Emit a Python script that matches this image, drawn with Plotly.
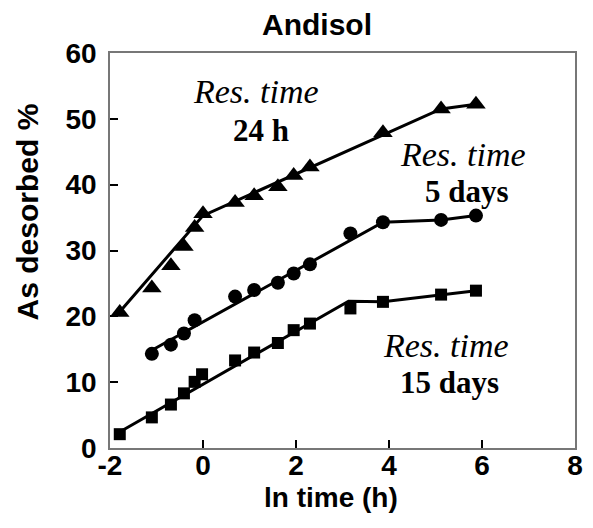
import plotly.graph_objects as go

# ---- data ----
x_24h = [-1.79, -1.10, -0.69, -0.41, -0.18, 0.0, 0.69, 1.10, 1.61, 1.95, 2.30, 3.87, 5.12, 5.87]
y_24h = [20.6, 24.3, 27.7, 30.6, 33.5, 35.6, 37.3, 38.3, 39.7, 41.4, 42.7, 47.9, 51.5, 52.2]

x_5d = [-1.10, -0.69, -0.41, -0.18, 0.69, 1.10, 1.61, 1.95, 2.30, 3.17, 3.87, 5.12, 5.87]
y_5d = [14.3, 15.7, 17.4, 19.4, 23.0, 24.0, 25.1, 26.5, 27.9, 32.6, 34.3, 34.65, 35.3]

x_15d = [-1.79, -1.10, -0.69, -0.41, -0.18, -0.02, 0.69, 1.10, 1.61, 1.95, 2.30, 3.17, 3.87, 5.12, 5.87]
y_15d = [2.1, 4.65, 6.6, 8.3, 10.05, 11.2, 13.3, 14.5, 15.95, 17.9, 18.9, 21.2, 22.2, 23.3, 23.9]

fit24_x = [-1.85, 0.0, 5.12, 5.87]
fit24_y = [20.2, 35.3, 51.5, 52.2]
fit5_x = [-1.10, 3.87, 5.12, 5.87]
fit5_y = [14.85, 34.3, 34.65, 35.3]
fit15_x = [-1.85, 3.13, 3.87, 5.12, 5.87]
fit15_y = [2.2, 22.3, 22.2, 23.3, 23.9]

x_ticks = [-2, 0, 2, 4, 6, 8]
y_ticks = [0, 10, 20, 30, 40, 50, 60]

fig = go.Figure()
for fx, fy in [(fit24_x, fit24_y), (fit5_x, fit5_y), (fit15_x, fit15_y)]:
    fig.add_trace(go.Scatter(x=fx, y=fy, mode="lines", line=dict(color="black", width=3),
                             showlegend=False, hoverinfo="skip"))
fig.add_trace(go.Scatter(x=x_24h, y=y_24h, mode="markers",
                         marker=dict(symbol="triangle-up", size=17, color="black"), showlegend=False))
fig.add_trace(go.Scatter(x=x_5d, y=y_5d, mode="markers",
                         marker=dict(symbol="circle", size=14, color="black"), showlegend=False))
fig.add_trace(go.Scatter(x=x_15d, y=y_15d, mode="markers",
                         marker=dict(symbol="square", size=12, color="black"), showlegend=False))

axis_common = dict(showgrid=False, zeroline=False, showline=True, linecolor="#777", linewidth=1.5,
                   mirror=True, ticks="inside", ticklen=8, tickwidth=1.5, tickcolor="black",
                   tickfont=dict(family="Liberation Sans, Arial", size=28, color="black", weight="bold"))

fig.update_xaxes(range=[-2, 8], tickvals=x_ticks, ticktext=[str(v) for v in x_ticks],
                 ticklabelstandoff=-8, **axis_common)
fig.update_yaxes(range=[0, 60], tickvals=y_ticks, ticktext=[str(v) for v in y_ticks],
                 ticklabelstandoff=6, **axis_common)

serif = "Liberation Serif, Times New Roman, serif"
sans = "Liberation Sans, Arial, sans-serif"
ann = []
def lab(x, y, t, font, size, italic=False, bold=True):
    ann.append(dict(x=x, y=y, xref="x", yref="y",
                    text=t, showarrow=False, xanchor="center", yanchor="middle",
                    font=dict(family=font, size=size, color="black",
                              style="italic" if italic else "normal",
                              weight="bold" if bold else "normal")))

lab(1.15, 54.1, "Res. time", serif, 34, italic=True, bold=False)
lab(1.25, 48.3, "24 h", serif, 31)
lab(5.6, 44.6, "Res. time", serif, 34, italic=True, bold=False)
lab(5.67, 39.0, "5 days", serif, 31)
lab(5.23, 15.6, "Res. time", serif, 34, italic=True, bold=False)
lab(5.3, 10.0, "15 days", serif, 31)

fig.update_layout(
    width=593, height=528,
    margin=dict(l=110, r=10, t=53, b=80),
    plot_bgcolor="white", paper_bgcolor="white",
    annotations=ann + [
        dict(x=(321 - 110) / 473, y=1 + (53 - 24) / 395, xref="paper", yref="paper", text="Andisol",
             showarrow=False, xanchor="center", yanchor="middle",
             font=dict(family=sans, size=30, color="black", weight="bold")),
        dict(x=(335 - 110) / 473, y=-(497 - 448) / 395, xref="paper", yref="paper", text="ln time (h)",
             showarrow=False, xanchor="center", yanchor="middle",
             font=dict(family=sans, size=28, color="black", weight="bold")),
        dict(x=-(110 - 26) / 473, y=(448 - 212) / 395, xref="paper", yref="paper", text="As desorbed %",
             showarrow=False, xanchor="center", yanchor="middle", textangle=-90,
             font=dict(family=sans, size=30, color="black", weight="bold")),
    ],
)

fig.write_html("out.html")
